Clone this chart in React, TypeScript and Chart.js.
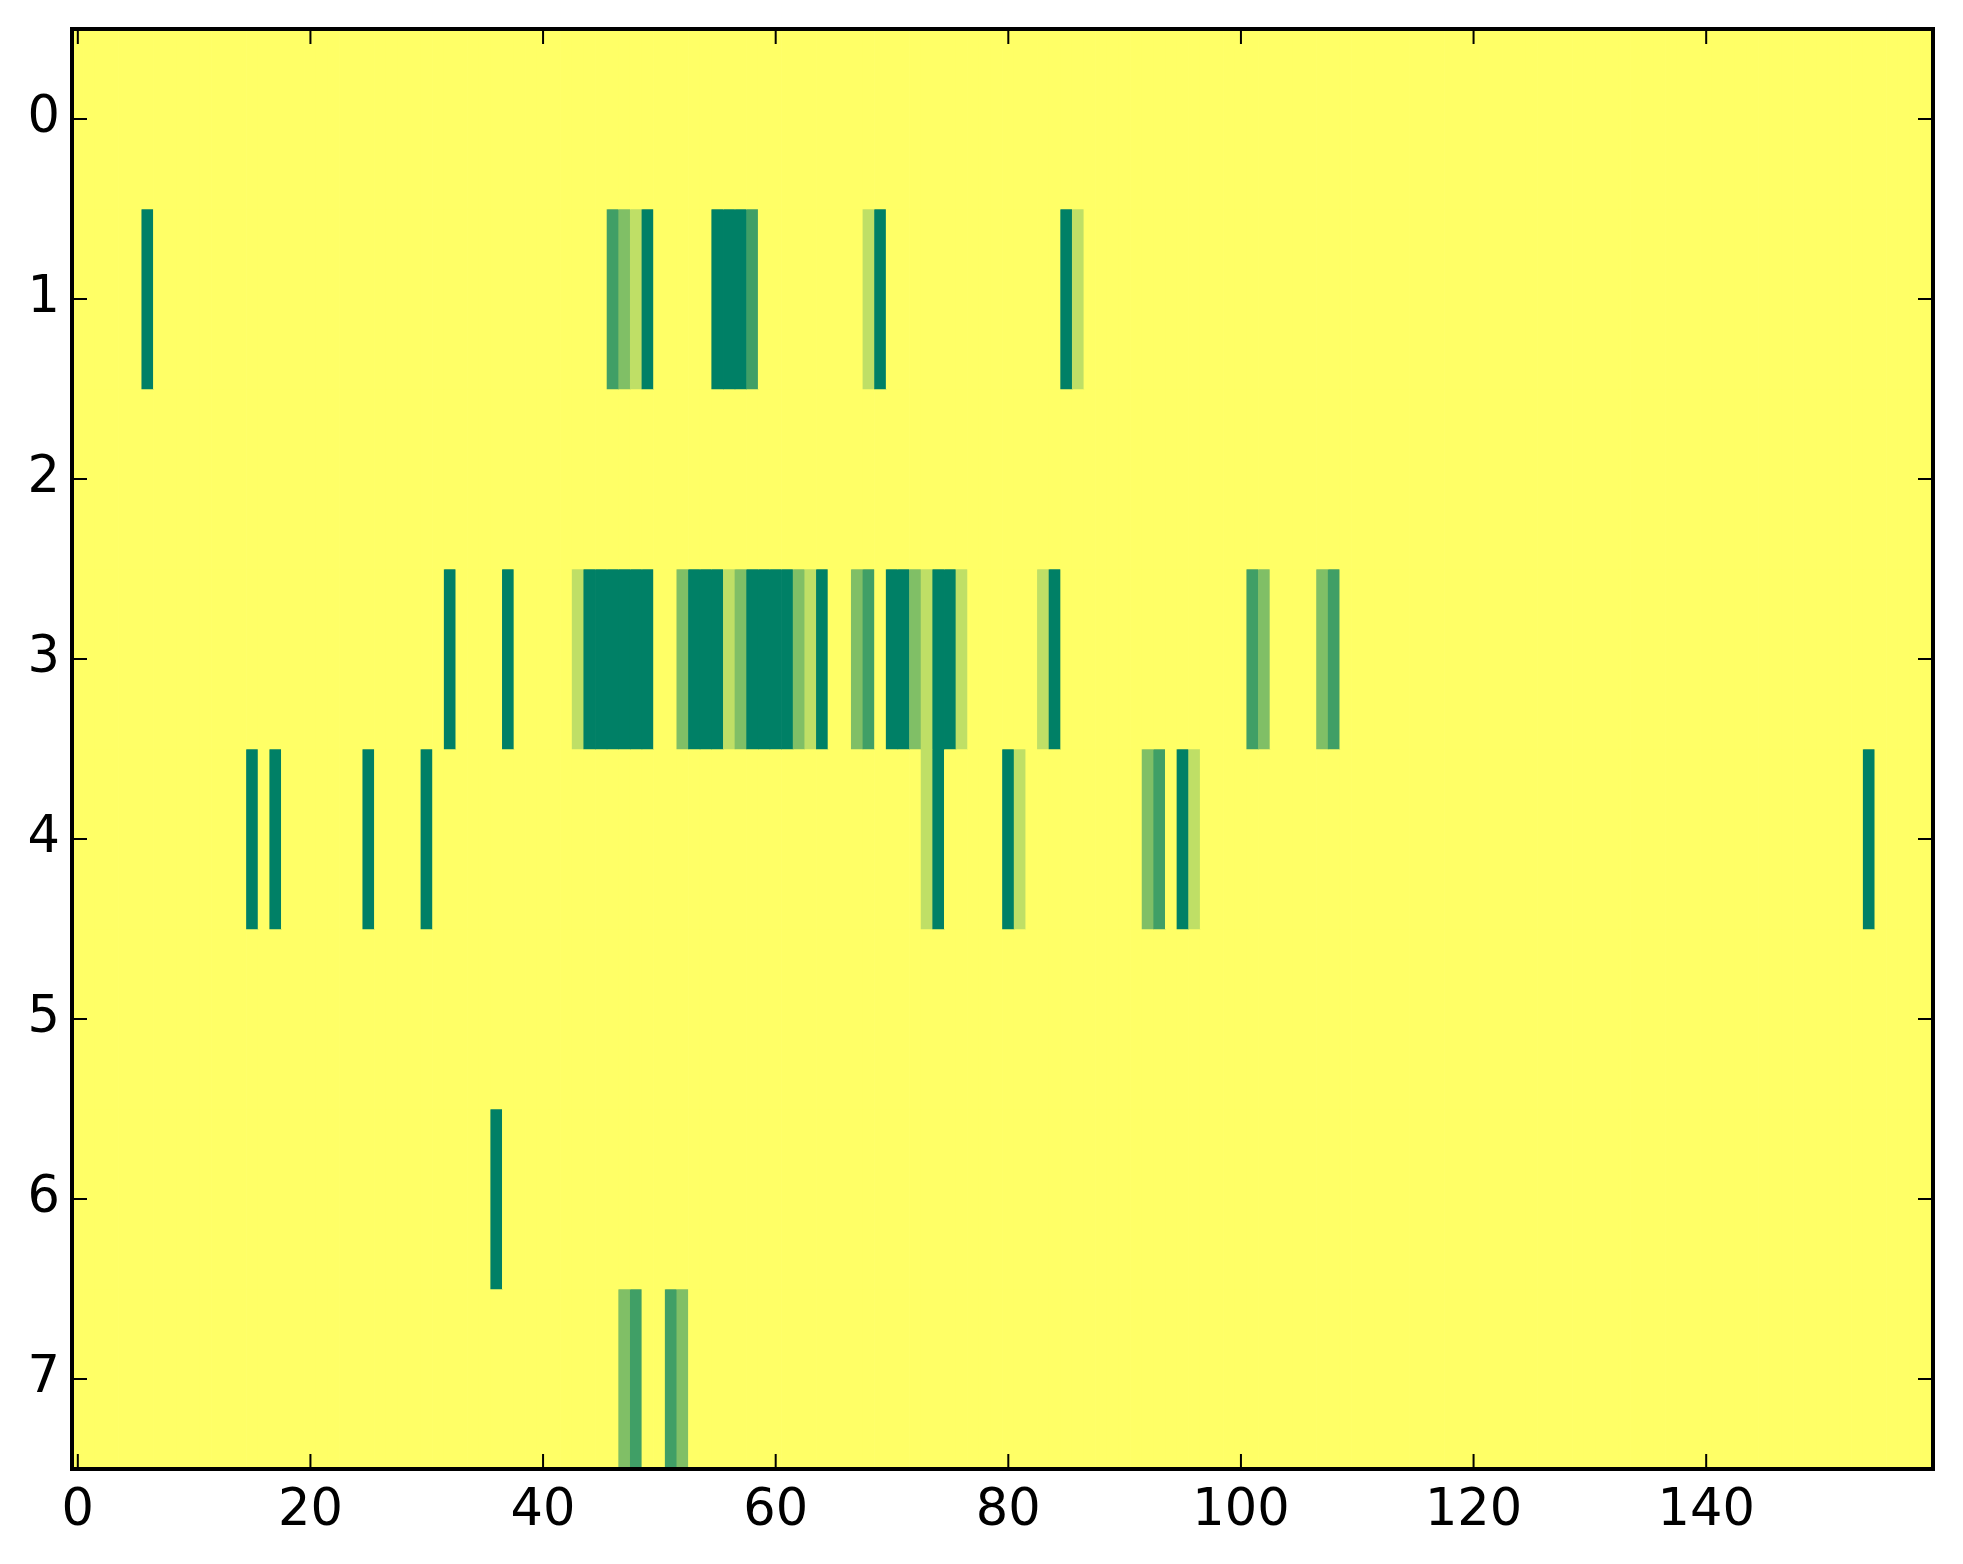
import React, { useEffect, useRef } from "react";
import { Chart, registerables } from "chart.js";

Chart.register(...registerables);

// ---- data (column index, level) ----
const N_COLS = 160;
const ROWS = [0, 1, 2, 3, 4, 5, 6, 7];
const X_TICKS = [0, 20, 40, 60, 80, 100, 120, 140];
const Y_TICKS = [0, 1, 2, 3, 4, 5, 6, 7];
const V_MAX = 4;

const ROW_0: number[][] = [];
const ROW_1: number[][] = [
  [6, 4], [46, 3], [47, 2], [48, 1], [49, 4], [55, 4], [56, 4], [57, 4], [58, 3],
  [68, 1], [69, 4], [85, 4], [86, 1],
];
const ROW_2: number[][] = [];
const ROW_3: number[][] = [
  [32, 4], [37, 4], [43, 1], [44, 4], [45, 4], [46, 4], [47, 4], [48, 4], [49, 4],
  [52, 2], [53, 4], [54, 4], [55, 4], [56, 1], [57, 2], [58, 4], [59, 4], [60, 4], [61, 4],
  [62, 2], [63, 1], [64, 4], [67, 2], [68, 3], [70, 4], [71, 4], [72, 2], [73, 1],
  [74, 4], [75, 4], [76, 1], [83, 1], [84, 4], [101, 3], [102, 2], [107, 2], [108, 3],
];
const ROW_4: number[][] = [
  [15, 4], [17, 4], [25, 4], [30, 4], [73, 1], [74, 4], [80, 4], [81, 1],
  [92, 2], [93, 3], [95, 4], [96, 1], [154, 4],
];
const ROW_5: number[][] = [];
const ROW_6: number[][] = [[36, 4]];
const ROW_7: number[][] = [[47, 2], [48, 3], [51, 3], [52, 2]];

const ROW_CELLS = [ROW_0, ROW_1, ROW_2, ROW_3, ROW_4, ROW_5, ROW_6, ROW_7];

// matplotlib "summer_r" colormap
function summerR(v: number): string {
  const t = 1 - Math.max(0, Math.min(1, v / V_MAX));
  const r = Math.round(t * 255);
  const g = Math.round((0.5 + 0.5 * t) * 255);
  const b = Math.round(0.4 * 255);
  return `rgb(${r},${g},${b})`;
}

const FONT = { family: '"DejaVu Sans", sans-serif', size: 51 };
const TICK_LEN = 15;

const framePlugin = {
  id: "mplFrame",
  afterDraw(chart: any) {
    const { ctx, chartArea: a, scales } = chart;
    ctx.save();
    ctx.strokeStyle = "#000";
    ctx.lineWidth = 2;
    ctx.beginPath();
    X_TICKS.forEach((v) => {
      const px = scales.x.getPixelForValue(v);
      ctx.moveTo(px, a.bottom);
      ctx.lineTo(px, a.bottom - TICK_LEN);
      ctx.moveTo(px, a.top);
      ctx.lineTo(px, a.top + TICK_LEN);
    });
    Y_TICKS.forEach((v) => {
      const py = scales.y.getPixelForValue(v);
      ctx.moveTo(a.left, py);
      ctx.lineTo(a.left + TICK_LEN, py);
      ctx.moveTo(a.right, py);
      ctx.lineTo(a.right - TICK_LEN, py);
    });
    ctx.stroke();
    ctx.lineWidth = 4;
    ctx.strokeRect(a.left, a.top, a.right - a.left, a.bottom - a.top);
    ctx.restore();
  },
};

export default function App() {
  const ref = useRef<HTMLCanvasElement | null>(null);

  useEffect(() => {
    document.body.style.margin = "0";
    const canvas = ref.current;
    if (!canvas) return;

    const columns = Array.from({ length: N_COLS }, (_, i) => i);
    const datasets = ROWS.map((r) => {
      const levels = new Array(N_COLS).fill(0);
      ROW_CELLS[r].forEach(([c, v]) => {
        levels[c] = v;
      });
      return {
        label: `row ${r}`,
        data: columns.map((c) => ({ x: c, y: [r - 0.5, r + 0.5] })),
        backgroundColor: levels.map((v) => summerR(v)),
        borderWidth: 0,
        barPercentage: 1,
        categoryPercentage: 1,
        grouped: false,
      };
    });

    const chart = new Chart(canvas, {
      type: "bar",
      data: { datasets: datasets as any },
      options: {
        animation: false,
        responsive: false,
        devicePixelRatio: 1,
        layout: { padding: { top: 29, right: 30, left: 0, bottom: 0 } },
        plugins: {
          legend: { display: false },
          tooltip: { enabled: false },
        },
        scales: {
          x: {
            type: "linear",
            offset: false,
            min: -0.5,
            max: N_COLS - 0.5,
            grid: { display: false, drawTicks: false, offset: false },
            border: { display: false },
            afterBuildTicks: (axis: any) => {
              axis.ticks = X_TICKS.map((v) => ({ value: v }));
            },
            afterFit: (axis: any) => {
              axis.height = 95;
              axis.paddingLeft = 0;
              axis.paddingRight = 0;
            },
            ticks: {
              autoSkip: false,
              maxRotation: 0,
              padding: 12,
              color: "#000",
              font: FONT,
              callback: (v: any) => String(v),
            },
          },
          y: {
            type: "linear",
            reverse: true,
            min: -0.5,
            max: ROWS.length - 0.5,
            grid: { display: false, drawTicks: false },
            border: { display: false },
            afterBuildTicks: (axis: any) => {
              axis.ticks = Y_TICKS.map((v) => ({ value: v }));
            },
            afterFit: (axis: any) => {
              axis.width = 72;
              axis.paddingTop = 0;
              axis.paddingBottom = 0;
            },
            ticks: {
              autoSkip: false,
              padding: 12,
              color: "#000",
              font: FONT,
              callback: (v: any) => String(v),
            },
          },
        },
      },
      plugins: [framePlugin],
    });

    return () => chart.destroy();
  }, []);

  return (
    <div style={{ width: 1963, height: 1564, background: "#fff" }}>
      <canvas ref={ref} width={1963} height={1564} style={{ display: "block" }} />
    </div>
  );
}
